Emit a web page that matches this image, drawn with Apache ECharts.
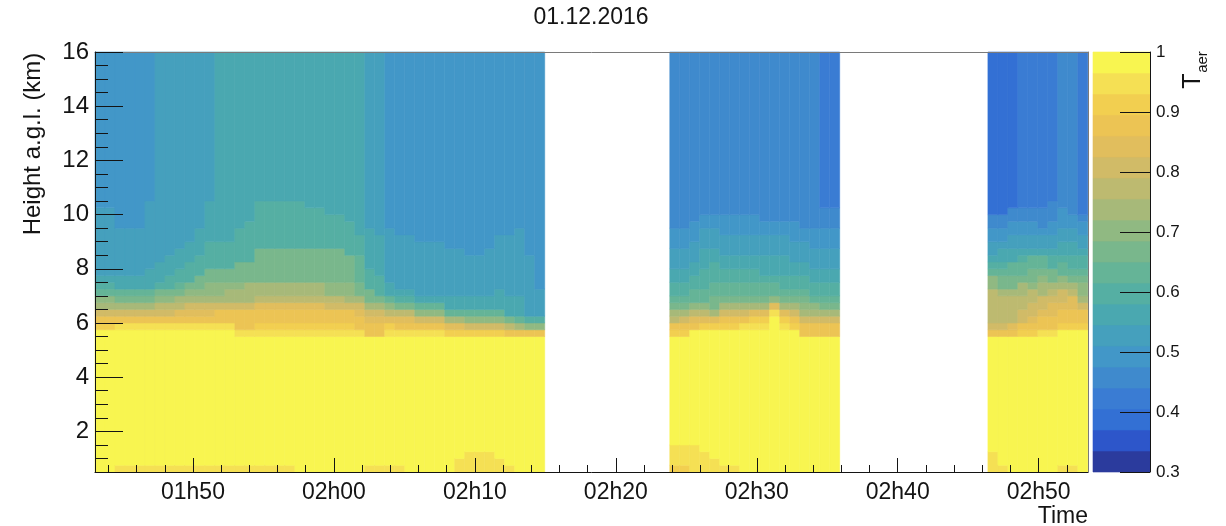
<!DOCTYPE html>
<html>
<head>
<meta charset="utf-8">
<script src="https://cdn.jsdelivr.net/npm/echarts@6/dist/echarts.min.js"></script>
<style>
  html, body { margin: 0; padding: 0; background: #ffffff; }
  #chart { width: 1226px; height: 526px; }
</style>
</head>
<body>
<div id="chart"></div>
<script>
// Aerosol transmission T_aer versus time and height, 01.12.2016.
// Each profile lists runs from the bottom (0.5 km) upward: [run top height in km, T_aer].

// Time axis in minutes after midnight.
const timeMin = 103.05;
const timeMax = 173.5;
const binMinutes = 0.709;                       // width of one profile
const segmentStarts = [103.05, 143.83, 166.4];  // first profile of each block

const heightMin = 0.5;
const heightMax = 16;

// Block 1: 01h43 - 02h15
const seg1Profiles = [
  [[5.75,.98],[6,.91],[6.25,.88],[6.5,.81],[6.75,.74],[7,.70],[7.25,.63],[7.5,.60],[7.75,.56],[10.25,.53],[16,.49]],
  [[5.75,.98],[6,.91],[6.25,.88],[6.5,.81],[6.75,.74],[7,.70],[7.25,.63],[7.5,.60],[7.75,.56],[10.25,.53],[16,.49]],
  [[0.75,.95],[5.75,.98],[6,.95],[6.25,.88],[6.5,.81],[6.75,.74],[7,.67],[7.25,.63],[7.75,.56],[9.5,.53],[16,.49]],
  [[0.75,.95],[5.75,.98],[6,.95],[6.25,.88],[6.5,.81],[6.75,.74],[7,.67],[7.25,.63],[7.75,.56],[9.5,.53],[16,.49]],
  [[0.75,.95],[5.75,.98],[6,.95],[6.25,.88],[6.5,.81],[6.75,.74],[7,.67],[7.25,.63],[7.75,.56],[9.5,.53],[16,.49]],
  [[0.75,.95],[5.75,.98],[6,.95],[6.25,.88],[6.5,.81],[6.75,.74],[7,.67],[7.25,.63],[8,.56],[10.5,.53],[16,.49]],
  [[0.75,.95],[5.75,.98],[6,.95],[6.25,.88],[6.5,.81],[6.75,.77],[7,.70],[7.25,.67],[7.5,.60],[8.25,.56],[16,.53]],
  [[0.75,.95],[5.75,.98],[6,.95],[6.25,.88],[6.5,.81],[6.75,.77],[7,.70],[7.25,.67],[7.75,.60],[8.5,.56],[16,.53]],
  [[0.75,.95],[5.75,.98],[6,.95],[6.25,.88],[6.5,.84],[6.75,.77],[7,.74],[7.25,.67],[7.5,.63],[8,.60],[8.75,.56],[16,.53]],
  [[0.75,.95],[5.75,.98],[6,.95],[6.25,.88],[6.5,.84],[6.75,.81],[7,.74],[7.25,.70],[7.5,.67],[8.25,.60],[9,.56],[16,.53]],
  [[0.75,.95],[5.75,.98],[6,.95],[6.25,.88],[6.5,.84],[6.75,.81],[7,.74],[7.25,.70],[7.75,.67],[8.5,.60],[9.5,.56],[16,.53]],
  [[0.75,.95],[5.75,.98],[6,.95],[6.25,.88],[6.5,.84],[6.75,.81],[7,.74],[7.5,.70],[8,.67],[9,.60],[10.5,.56],[16,.53]],
  [[0.75,.95],[5.75,.98],[6,.95],[6.5,.88],[6.75,.81],[7,.74],[7.5,.70],[8,.67],[9,.60],[16,.56]],
  [[0.75,.95],[5.75,.98],[6,.95],[6.5,.88],[6.75,.81],[7.25,.74],[7.5,.70],[8,.67],[9,.60],[16,.56]],
  [[0.75,.95],[5.5,.98],[5.75,.95],[6.5,.88],[6.75,.81],[7.25,.74],[7.5,.70],[8.25,.67],[9.5,.60],[16,.56]],
  [[0.75,.95],[5.5,.98],[5.75,.95],[6.5,.88],[6.75,.81],[7.5,.74],[8.25,.67],[9.75,.60],[16,.56]],
  [[0.75,.95],[5.5,.98],[5.75,.95],[6,.91],[6.5,.88],[6.75,.84],[7,.77],[7.5,.74],[8.75,.67],[10.5,.60],[16,.56]],
  [[0.75,.95],[5.5,.98],[5.75,.95],[6,.91],[6.5,.88],[6.75,.84],[7,.77],[7.5,.74],[8.75,.67],[10.5,.60],[16,.56]],
  [[0.75,.95],[5.5,.98],[5.75,.95],[6,.91],[6.5,.88],[6.75,.84],[7,.77],[7.5,.74],[8.75,.67],[10.5,.60],[16,.56]],
  [[0.75,.95],[5.5,.98],[5.75,.95],[6,.91],[6.5,.88],[6.75,.84],[7,.77],[7.5,.74],[8.75,.67],[10.5,.60],[16,.56]],
  [[5.5,.98],[5.75,.95],[6,.91],[6.5,.88],[6.75,.84],[7,.77],[7.5,.74],[8.75,.67],[10.5,.60],[16,.56]],
  [[5.5,.98],[5.75,.95],[6,.91],[6.5,.88],[6.75,.84],[7,.77],[7.5,.74],[8.75,.67],[10.25,.60],[16,.56]],
  [[5.5,.98],[5.75,.95],[6,.91],[6.5,.88],[6.75,.84],[7,.77],[7.5,.74],[8.75,.67],[10.25,.60],[16,.56]],
  [[5.5,.98],[5.75,.95],[6,.91],[6.5,.88],[6.75,.81],[7,.77],[7.5,.70],[8.75,.67],[10,.60],[16,.56]],
  [[5.5,.98],[5.75,.95],[6,.91],[6.5,.88],[6.75,.81],[7,.77],[7.5,.70],[8.75,.67],[10,.60],[16,.56]],
  [[5.5,.98],[5.75,.95],[6,.91],[6.5,.88],[6.75,.81],[7,.74],[7.5,.70],[8.5,.67],[9.75,.60],[16,.56]],
  [[5.5,.98],[5.75,.95],[6.25,.88],[6.5,.84],[6.75,.81],[7,.74],[7.5,.67],[8.5,.63],[9.25,.60],[16,.56]],
  [[0.75,.95],[5.5,.98],[6,.88],[6.25,.84],[6.5,.81],[6.75,.74],[7.25,.67],[8,.60],[9.5,.56],[16,.53]],
  [[0.75,.95],[5.5,.98],[6,.88],[6.25,.84],[6.5,.81],[6.75,.74],[7,.67],[7.75,.60],[9.25,.56],[16,.53]],
  [[0.75,.95],[5.5,.98],[5.75,.95],[6,.91],[6.25,.84],[6.5,.77],[6.75,.70],[7,.63],[7.5,.56],[9.5,.53],[16,.49]],
  [[0.75,.95],[5.5,.98],[5.75,.95],[6,.88],[6.25,.84],[6.5,.77],[6.75,.67],[7,.60],[7.25,.56],[9.25,.53],[16,.49]],
  [[5.5,.98],[5.75,.95],[6,.88],[6.25,.84],[6.5,.77],[6.75,.67],[7,.60],[7.25,.56],[9.25,.53],[16,.49]],
  [[5.5,.98],[5.75,.95],[6,.88],[6.25,.81],[6.5,.70],[6.75,.63],[7,.56],[9,.53],[16,.49]],
  [[5.5,.98],[5.75,.95],[6,.88],[6.25,.81],[6.5,.70],[6.75,.63],[7,.56],[9,.53],[16,.49]],
  [[5.5,.98],[5.75,.95],[6,.88],[6.25,.81],[6.5,.70],[6.75,.63],[7,.56],[9,.53],[16,.49]],
  [[5.5,.98],[5.75,.91],[6,.84],[6.25,.74],[6.5,.63],[7,.56],[8.75,.53],[16,.49]],
  [[1,.95],[5.5,.98],[5.75,.91],[6,.84],[6.25,.74],[6.5,.63],[7,.56],[8.75,.53],[16,.49]],
  [[1.25,.95],[5.5,.98],[5.75,.91],[6,.81],[6.25,.70],[6.5,.63],[7,.56],[8.5,.53],[16,.49]],
  [[1.25,.95],[5.5,.98],[5.75,.91],[6,.81],[6.25,.70],[6.5,.63],[7,.56],[8.5,.53],[16,.49]],
  [[1.25,.95],[5.5,.98],[5.75,.91],[6,.81],[6.25,.70],[6.5,.63],[7,.56],[8.75,.53],[16,.49]],
  [[1,.95],[5.5,.98],[5.75,.91],[6,.81],[6.25,.70],[6.5,.63],[7.25,.56],[9.25,.53],[16,.49]],
  [[0.75,.95],[5.5,.98],[5.75,.88],[6,.77],[6.25,.67],[7,.56],[9.25,.53],[16,.49]],
  [[5.5,.98],[5.75,.88],[6,.74],[6.25,.63],[7,.56],[9.5,.53],[16,.49]],
  [[5.5,.98],[5.75,.88],[6,.70],[6.25,.60],[8.5,.53],[16,.49]],
  [[5.5,.98],[5.75,.88],[6,.70],[6.25,.60],[7.25,.53],[16,.49]]
];

// Block 2: 02h24 - 02h36
const seg2Profiles = [
  [[0.75,.91],[1.5,.95],[5.5,.98],[5.75,.91],[6,.88],[6.25,.77],[6.5,.74],[6.75,.67],[7,.63],[7.5,.60],[8,.56],[8.75,.53],[9.5,.49],[16,.46]],
  [[0.75,.91],[1.5,.95],[5.5,.98],[5.75,.91],[6,.88],[6.25,.81],[6.5,.74],[6.75,.67],[7,.63],[7.5,.60],[8,.56],[8.75,.53],[9.5,.49],[16,.46]],
  [[1.5,.95],[5.75,.98],[6,.88],[6.25,.84],[6.5,.77],[6.75,.70],[7.25,.63],[7.75,.60],[8.25,.56],[9,.53],[9.75,.49],[16,.46]],
  [[1.25,.95],[5.75,.98],[6,.91],[6.25,.84],[6.5,.77],[6.75,.70],[7.25,.63],[8,.60],[8.75,.56],[9.5,.53],[10,.49],[16,.46]],
  [[1,.95],[5.75,.98],[6,.91],[6.25,.84],[6.5,.74],[7,.67],[7.5,.63],[8.25,.60],[8.75,.56],[9.5,.53],[10,.49],[16,.46]],
  [[0.75,.95],[5.75,.98],[6,.91],[6.25,.88],[6.5,.81],[6.75,.74],[7,.67],[7.5,.63],[8,.60],[8.5,.56],[9.25,.53],[10,.49],[16,.46]],
  [[0.75,.95],[5.75,.98],[6,.91],[6.25,.88],[6.5,.81],[6.75,.74],[7,.67],[7.5,.63],[8,.60],[8.5,.56],[9.25,.53],[10,.49],[16,.46]],
  [[5.75,.98],[6,.95],[6.25,.88],[6.5,.81],[6.75,.74],[7,.67],[7.5,.63],[8,.60],[8.5,.56],[9.25,.53],[10,.49],[16,.46]],
  [[5.75,.98],[6,.95],[6.25,.91],[6.5,.84],[6.75,.74],[7,.67],[7.5,.63],[8,.60],[8.5,.56],[9.25,.53],[10,.49],[16,.46]],
  [[5.75,.98],[6,.95],[6.25,.91],[6.5,.84],[6.75,.74],[7,.67],[7.5,.63],[7.75,.60],[8.5,.56],[9.25,.53],[9.75,.49],[16,.46]],
  [[6.25,.98],[6.5,.95],[6.75,.84],[7,.70],[7.5,.63],[7.75,.60],[8.5,.56],[9.25,.53],[9.75,.49],[16,.46]],
  [[5.75,.98],[6,.95],[6.25,.91],[6.5,.84],[6.75,.74],[7,.67],[7.25,.63],[7.75,.60],[8.5,.56],[9.25,.53],[9.75,.49],[16,.46]],
  [[5.75,.98],[6,.91],[6.25,.88],[6.5,.81],[6.75,.74],[7,.67],[7.25,.63],[7.75,.60],[8.25,.56],[9,.53],[9.75,.49],[16,.46]],
  [[5.5,.98],[6,.88],[6.25,.81],[6.5,.74],[6.75,.70],[7,.67],[7.25,.63],[7.75,.60],[8.25,.56],[9,.53],[9.5,.49],[16,.46]],
  [[5.5,.98],[6,.88],[6.25,.81],[6.5,.74],[6.75,.70],[7,.63],[7.5,.60],[8,.56],[8.75,.53],[9.5,.49],[16,.46]],
  [[5.5,.98],[6,.88],[6.25,.81],[6.5,.74],[6.75,.67],[7,.63],[7.5,.60],[8,.56],[8.75,.53],[9.5,.49],[10.25,.46],[16,.42]],
  [[5.5,.98],[6,.88],[6.25,.81],[6.5,.74],[6.75,.67],[7,.63],[7.5,.60],[8,.56],[8.75,.53],[9.5,.49],[10.25,.46],[16,.42]]
];

// Block 3: 02h46 - 02h53
const seg3Profiles = [
  [[1.25,.95],[5.5,.98],[5.75,.88],[6,.81],[7.25,.77],[7.75,.70],[8,.63],[8.25,.60],[8.5,.56],[9,.53],[9.5,.49],[10,.46],[16,.39]],
  [[0.75,.95],[5.5,.98],[5.75,.88],[6,.81],[7,.77],[7.25,.74],[7.75,.67],[8,.63],[8.25,.60],[8.75,.56],[9,.53],[9.5,.49],[10,.46],[16,.39]],
  [[5.5,.98],[5.75,.88],[6,.84],[7,.77],[7.25,.74],[7.75,.67],[8.25,.63],[8.75,.56],[9.25,.53],[9.75,.49],[10.25,.46],[16,.39]],
  [[5.5,.98],[5.75,.91],[6,.88],[6.5,.81],[7,.77],[7.5,.74],[7.75,.67],[8.25,.63],[8.5,.60],[8.75,.56],[9.25,.53],[9.75,.49],[10.25,.46],[16,.42]],
  [[5.5,.98],[5.75,.91],[6,.88],[6.25,.84],[6.75,.81],[7.25,.77],[7.5,.70],[8,.67],[8.5,.63],[8.75,.56],[9.25,.53],[9.75,.49],[10.25,.46],[16,.42]],
  [[5.5,.98],[5.75,.95],[6.25,.88],[6.5,.84],[7,.81],[7.5,.74],[7.75,.70],[8,.67],[8.5,.63],[8.75,.56],[9.25,.53],[9.5,.49],[10.25,.46],[16,.42]],
  [[5.5,.98],[5.75,.95],[6.25,.88],[6.75,.84],[7,.81],[7.25,.77],[7.5,.74],[8,.67],[8.5,.60],[8.75,.56],[9.25,.53],[9.75,.49],[10.5,.46],[16,.42]],
  [[0.75,.95],[5.75,.98],[6,.91],[6.5,.88],[6.75,.84],[7.25,.81],[7.5,.74],[7.75,.70],[8.25,.63],[8.5,.60],[9,.56],[9.5,.53],[10.25,.49],[16,.46]],
  [[0.75,.95],[5.75,.98],[6,.91],[6.5,.88],[7,.84],[7.25,.77],[7.5,.74],[7.75,.67],[8,.63],[8.5,.60],[9,.56],[9.5,.53],[10,.49],[16,.46]],
  [[5.75,.98],[6,.91],[6.5,.88],[6.75,.81],[7,.74],[7.5,.70],[7.75,.67],[8,.63],[8.5,.60],[8.75,.56],[9.25,.53],[9.75,.49],[10,.46],[16,.42]]
];

// Contour levels of the colour scale and one colour per band
const levels = [0.3, 0.335, 0.37, 0.405, 0.44, 0.475, 0.51, 0.545, 0.58, 0.615, 0.65,
                0.685, 0.72, 0.755, 0.79, 0.825, 0.86, 0.895, 0.93, 0.965, 1.0];
const bandColors = ['#2b3b9d', '#2d56ca', '#3370d4', '#3a7cd3', '#3f8acd', '#4297c8', '#45a0bd',
                    '#4aa8b0', '#55afa3', '#65b497', '#79b78c', '#90b982', '#a7b979', '#bdba70',
                    '#d1bb67', '#e1be5d', '#ecc454', '#f2cf50', '#f5e054', '#f8f550'];

// Axis ticks and labels
const timeMajorTicks = [110, 120, 130, 140, 150, 160, 170];
const timeMinorTicks = [104, 106, 108, 112, 114, 116, 118, 122, 124, 126, 128, 132, 134, 136, 138,
                        142, 144, 146, 148, 152, 154, 156, 158, 162, 164, 166, 168, 172];
const heightMajorTicks = [2, 4, 6, 8, 10, 12, 14, 16];
const heightMinorTicks = [1, 1.5, 2.5, 3, 3.5, 4.5, 5, 5.5, 6.5, 7, 7.5, 8.5, 9, 9.5,
                          10.5, 11, 11.5, 12.5, 13, 13.5, 14.5, 15, 15.5];

const FONT = '"Liberation Sans", Arial, Helvetica, sans-serif';
const INK = '#141414';

// Expand the profiles into rectangles [t0, t1, h0, h1, T]
const cells = [];
[seg1Profiles, seg2Profiles, seg3Profiles].forEach((profiles, s) => {
  profiles.forEach((runs, i) => {
    const t0 = segmentStarts[s] + i * binMinutes;
    const t1 = t0 + binMinutes;
    let bottom = heightMin;
    runs.forEach(([top, value]) => {
      cells.push([t0, t1, bottom, top, value]);
      bottom = top;
    });
  });
});

// Colour-bar bands [0, 1, lo, hi, mid]
const barCells = [];
for (let i = 0; i < levels.length - 1; i++) {
  barCells.push([0, 1, levels[i], levels[i + 1], (levels[i] + levels[i + 1]) / 2]);
}
const pieces = bandColors.map((c, i) => (
  i === bandColors.length - 1
    ? { gte: levels[i], lte: levels[i + 1], color: c }
    : { gte: levels[i], lt: levels[i + 1], color: c }
));

function pad2(n) { return (n < 10 ? '0' : '') + n; }
function fmtTime(v) {
  const m = Math.round(v);
  return pad2(Math.floor(m / 60)) + 'h' + pad2(m % 60);
}

function renderRect(params, api) {
  const a = api.coord([api.value(0), api.value(3)]);
  const b = api.coord([api.value(1), api.value(2)]);
  const color = api.visual('color');
  return {
    type: 'rect',
    shape: { x: a[0], y: a[1], width: b[0] - a[0], height: b[1] - a[1] },
    style: { fill: color, stroke: color, lineWidth: 0.6 }
  };
}

const chart = echarts.init(document.getElementById('chart'), null, { renderer: 'canvas' });

const hiddenTick = { show: false };
chart.setOption({
  animation: false,
  backgroundColor: '#ffffff',
  textStyle: { fontFamily: FONT },
  grid: [
    { left: 95, top: 52, width: 993, height: 420, containLabel: false, outerBoundsMode: 'none' },
    { left: 1093, top: 52, width: 57, height: 420, containLabel: false, outerBoundsMode: 'none' }
  ],
  visualMap: {
    type: 'piecewise', show: false, seriesIndex: [0, 1], dimension: 4, pieces: pieces
  },
  xAxis: [
    {
      type: 'value', gridIndex: 0, min: timeMin, max: timeMax, position: 'bottom', z: 10,
      axisLine: { show: true, onZero: false, lineStyle: { color: INK, width: 1 } },
      axisTick: { show: true, inside: true, length: 14, customValues: timeMajorTicks, lineStyle: { color: INK } },
      axisLabel: { show: true, customValues: timeMajorTicks, formatter: fmtTime, fontSize: 23,
                   color: INK, margin: 9, fontFamily: FONT },
      splitLine: { show: false }
    },
    {
      type: 'value', gridIndex: 0, min: timeMin, max: timeMax, position: 'bottom', z: 10,
      axisLine: { show: false, onZero: false },
      axisTick: { show: true, inside: true, length: 7, customValues: timeMinorTicks, lineStyle: { color: INK } },
      axisLabel: { show: false }, splitLine: { show: false }
    },
    {
      type: 'value', gridIndex: 0, min: timeMin, max: timeMax, position: 'top', z: 10,
      axisLine: { show: true, onZero: false, lineStyle: { color: '#7a7a7a', width: 1 } },
      axisTick: hiddenTick, axisLabel: { show: false }, splitLine: { show: false }
    },
    {
      type: 'value', gridIndex: 1, min: 0, max: 1, show: false
    }
  ],
  yAxis: [
    {
      type: 'value', gridIndex: 0, min: heightMin, max: heightMax, position: 'left', z: 10,
      axisLine: { show: true, onZero: false, lineStyle: { color: INK, width: 1 } },
      axisTick: { show: true, inside: true, length: 28, customValues: heightMajorTicks, lineStyle: { color: INK } },
      axisLabel: { show: true, customValues: heightMajorTicks, fontSize: 24, color: INK, margin: 6, fontFamily: FONT },
      splitLine: { show: false }
    },
    {
      type: 'value', gridIndex: 0, min: heightMin, max: heightMax, position: 'left', z: 10,
      axisLine: { show: false, onZero: false },
      axisTick: { show: true, inside: true, length: 13, customValues: heightMinorTicks, lineStyle: { color: INK } },
      axisLabel: { show: false }, splitLine: { show: false }
    },
    {
      type: 'value', gridIndex: 0, min: heightMin, max: heightMax, position: 'right', z: 10,
      axisLine: { show: true, onZero: false, lineStyle: { color: '#7a7a7a', width: 1 } },
      axisTick: hiddenTick, axisLabel: { show: false }, splitLine: { show: false }
    },
    {
      type: 'value', gridIndex: 1, min: 0.3, max: 1, interval: 0.1, position: 'right', z: 10,
      axisLine: { show: true, onZero: false, lineStyle: { color: INK, width: 1 } },
      axisTick: { show: true, inside: true, length: 30, lineStyle: { color: INK } },
      axisLabel: { show: true, fontSize: 17, color: INK, margin: 6, fontFamily: FONT,
                   showMinLabel: true, showMaxLabel: true },
      splitLine: { show: false }
    }
  ],
  series: [
    {
      type: 'custom', coordinateSystem: 'cartesian2d', xAxisIndex: 0, yAxisIndex: 0,
      data: cells, encode: { x: [0, 1], y: [2, 3] }, renderItem: renderRect, silent: true, z: 2
    },
    {
      type: 'custom', coordinateSystem: 'cartesian2d', xAxisIndex: 3, yAxisIndex: 3,
      data: barCells, encode: { x: [0, 1], y: [2, 3] }, renderItem: renderRect, silent: true, z: 2
    }
  ],
  graphic: [
    {
      type: 'text', x: 591, y: 18, z: 20,
      style: { text: '01.12.2016', fontSize: 23, fontFamily: FONT, fill: INK, align: 'center', verticalAlign: 'middle' }
    },
    {
      type: 'text', x: 33, y: 144, rotation: Math.PI / 2, z: 20,
      style: { text: 'Height a.g.l. (km)', fontSize: 24, fontFamily: FONT, fill: INK, align: 'center', verticalAlign: 'middle' }
    },
    {
      type: 'text', x: 1088, y: 517, z: 20,
      style: { text: 'Time', fontSize: 23, fontFamily: FONT, fill: INK, align: 'right', verticalAlign: 'middle' }
    },
    {
      type: 'text', x: 1193, y: 81, rotation: Math.PI / 2, z: 20,
      style: { text: 'T', fontSize: 25, fontFamily: FONT, fill: INK, align: 'center', verticalAlign: 'middle' }
    },
    {
      type: 'text', x: 1203, y: 62, rotation: Math.PI / 2, z: 20,
      style: { text: 'aer', fontSize: 15, fontFamily: FONT, fill: INK, align: 'center', verticalAlign: 'middle' }
    }
  ]
});
</script>
</body>
</html>
